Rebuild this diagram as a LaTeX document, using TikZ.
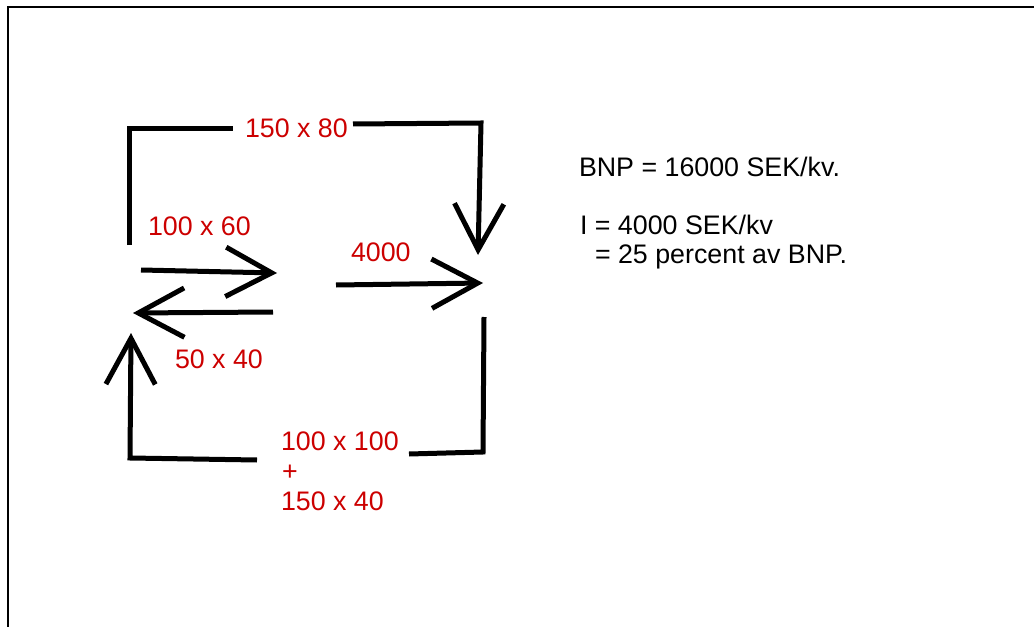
\documentclass[tikz,border=0pt]{standalone}
\usepackage{fontspec}
\setmainfont{Liberation Sans}
\usetikzlibrary{arrows.meta}
\definecolor{flowred}{RGB}{204,0,0}
\begin{document}
\begin{tikzpicture}[x=0.75pt,y=-0.75pt,
  flow/.style={line width=3.75pt,line cap=butt,line join=miter,black},
  tipped/.style={flow,-{Straight Barb[length=34.5pt,width=37pt,sharp]}},
  redlabel/.style={text=flowred,font=\fontsize{20.1pt}{23pt}\selectfont,inner sep=0pt,outer sep=0pt,anchor=base west},
  blacklabel/.style={text=black,font=\fontsize{20.1pt}{23pt}\selectfont,inner sep=0pt,outer sep=0pt,anchor=base west},
  frameline/.style={line width=2.2pt,black}]
\useasboundingbox (0,0) rectangle (1034,627);
% frame
\coordinate (fTL) at (8,7);
\coordinate (fTR) at (1034,7);
\coordinate (fBL) at (8,627);
\draw[frameline,line cap=butt] (fBL) -- (fTL) -- (fTR);
% labels
\node[redlabel] (lTop) at (245,138) {150 x 80};
\node[redlabel] (lIn) at (148,235) {100 x 60};
\node[redlabel] (lOut) at (175,368) {50 x 40};
\node[redlabel] (lInv) at (351,261) {4000};
\node[redlabel] (lBot1) at (281,450) {100 x 100};
\node[redlabel] (lBot2) at (282,480) {+};
\node[redlabel] (lBot3) at (281,510) {150 x 40};
\node[blacklabel] (tBNP) at (579,177) {BNP = 16000 SEK/kv.};
\node[blacklabel] (tI) at (580,234) {I = 4000 SEK/kv};
\node[blacklabel] (tPct) at (595,263) {= 25 percent av BNP.};
% top loop
\coordinate (a1) at (129,245);
\coordinate (a2) at (129,129);
\coordinate (a3) at (233,129);
\coordinate (b1) at (353,124);
\coordinate (b2) at (481,123);
\coordinate (b3) at (478,255);
\draw[flow] (a1) -- (a2) -- (a3);
\draw[tipped] (b1) -- (b2) -- (b3);
% middle arrows
\coordinate (c1) at (141,270);
\coordinate (c2) at (277,273);
\draw[tipped] (c1) -- (c2);
\coordinate (d1) at (273,312);
\coordinate (d2) at (133,313);
\draw[tipped] (d1) -- (d2);
\coordinate (e1) at (336,285);
\coordinate (e2) at (483,283);
\draw[tipped] (e1) -- (e2);
% bottom loop
\coordinate (g1) at (484,317);
\coordinate (g2) at (483,452);
\coordinate (g3) at (409,454);
\draw[flow] (g1) -- (g2) -- (g3);
\coordinate (h1) at (257,460);
\coordinate (h2) at (130,458);
\coordinate (h3) at (131,333);
\draw[tipped] (h1) -- (h2) -- (h3);
\end{tikzpicture}
\end{document}
